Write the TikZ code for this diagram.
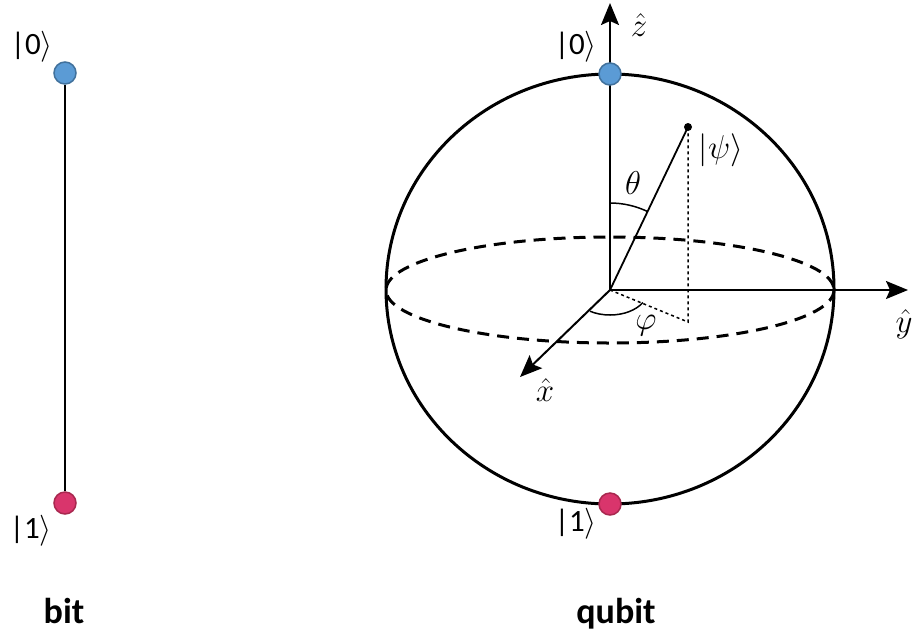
\documentclass[tikz,border=0pt]{standalone}
\usepackage{fix-cm}
\usepackage{fontspec}
\setmainfont{Carlito}
\usetikzlibrary{arrows.meta}

\definecolor{zeroblue}{HTML}{5B9BD5}
\definecolor{zeroedge}{HTML}{41719C}
\definecolor{onered}{HTML}{D9356C}
\definecolor{oneedge}{HTML}{A8284F}

\tikzset{
  qstate/.style={circle, draw, line width=1.5pt, minimum size=22pt, inner sep=0pt},
  zero/.style={qstate, fill=zeroblue, draw=zeroedge},
  one/.style={qstate, fill=onered, draw=oneedge},
  ket/.style={font=\fontsize{31}{31}\selectfont, inner sep=0pt},
  mlab/.style={font=\fontsize{33}{33}\selectfont, inner sep=0pt},
  caption/.style={font=\fontsize{36}{36}\selectfont\bfseries, anchor=base, inner sep=0pt},
  axis/.style={line width=2pt, -{Stealth[length=22pt,width=18pt,inset=4pt]}},
  proj/.style={line width=1.5pt, dash pattern=on 3pt off 3pt},
}

\begin{document}
\begin{tikzpicture}[x=1pt,y=-1pt] % pixel coordinates, y downwards
  \useasboundingbox (0,0) rectangle (912,633);

  % Bit
  \node[zero] (b0) at (65,73) {};
  \node[one] (b1) at (65,503) {};
  \draw[line width=2.5pt] (b0) -- (b1);
  \node[ket] (b0lab) at (32,47) {|0$\rangle$};
  \node[ket] (b1lab) at (31,531) {|1$\rangle$};
  \node[caption] (bitlab) at (64,623) {bit};

  % Qubit: Bloch sphere
  \coordinate (o) at (610,290);
  \coordinate (ztip) at (610,3);
  \coordinate (ytip) at (908,290);
  \coordinate (xtip) at (520,377);
  \coordinate (p) at (688,322);

  \draw[line width=3pt] (610,289) ellipse [x radius=224, y radius=215];
  \draw[line width=3pt, dash pattern=on 12pt off 8pt] (o) ellipse [x radius=224, y radius=53];

  \draw[axis] (o) -- (ztip);
  \draw[axis] (o) -- (ytip);
  \draw[axis] (o) -- (xtip);

  \node[circle, fill, inner sep=0pt, minimum size=8pt] (psi) at (688,127) {};
  \draw[line width=1.8pt] (o) -- (psi.center);
  \draw[proj] (o) -- (p) -- (psi);

  % angles
  \draw[line width=1.5pt] (o) ++(-90:87) arc[start angle=-90, end angle=-64.4, radius=87];
  \draw[line width=1.5pt] (o) ++(30:38 and 25) arc[start angle=30, end angle=122, x radius=38, y radius=25];

  \node[zero] (q0) at (610,74) {};
  \node[one] (q1) at (610,504) {};

  \node[ket] (q0lab) at (576,47) {|0$\rangle$};
  \node[ket] (q1lab) at (576,524) {|1$\rangle$};
  \node[mlab] (psilab) at (721,150) {$|\psi\rangle$};
  \node[mlab] (thetalab) at (633,183) {$\theta$};
  \node[mlab] (philab) at (646,326) {$\varphi$};
  \node[mlab] (zlab) at (639,25) {$\hat{z}$};
  \node[mlab] (ylab) at (904,324) {$\hat{y}$};
  \node[mlab] (xlab) at (545,390) {$\hat{x}$};
  \node[caption] (qubitlab) at (616,623) {qubit};
\end{tikzpicture}
\end{document}
